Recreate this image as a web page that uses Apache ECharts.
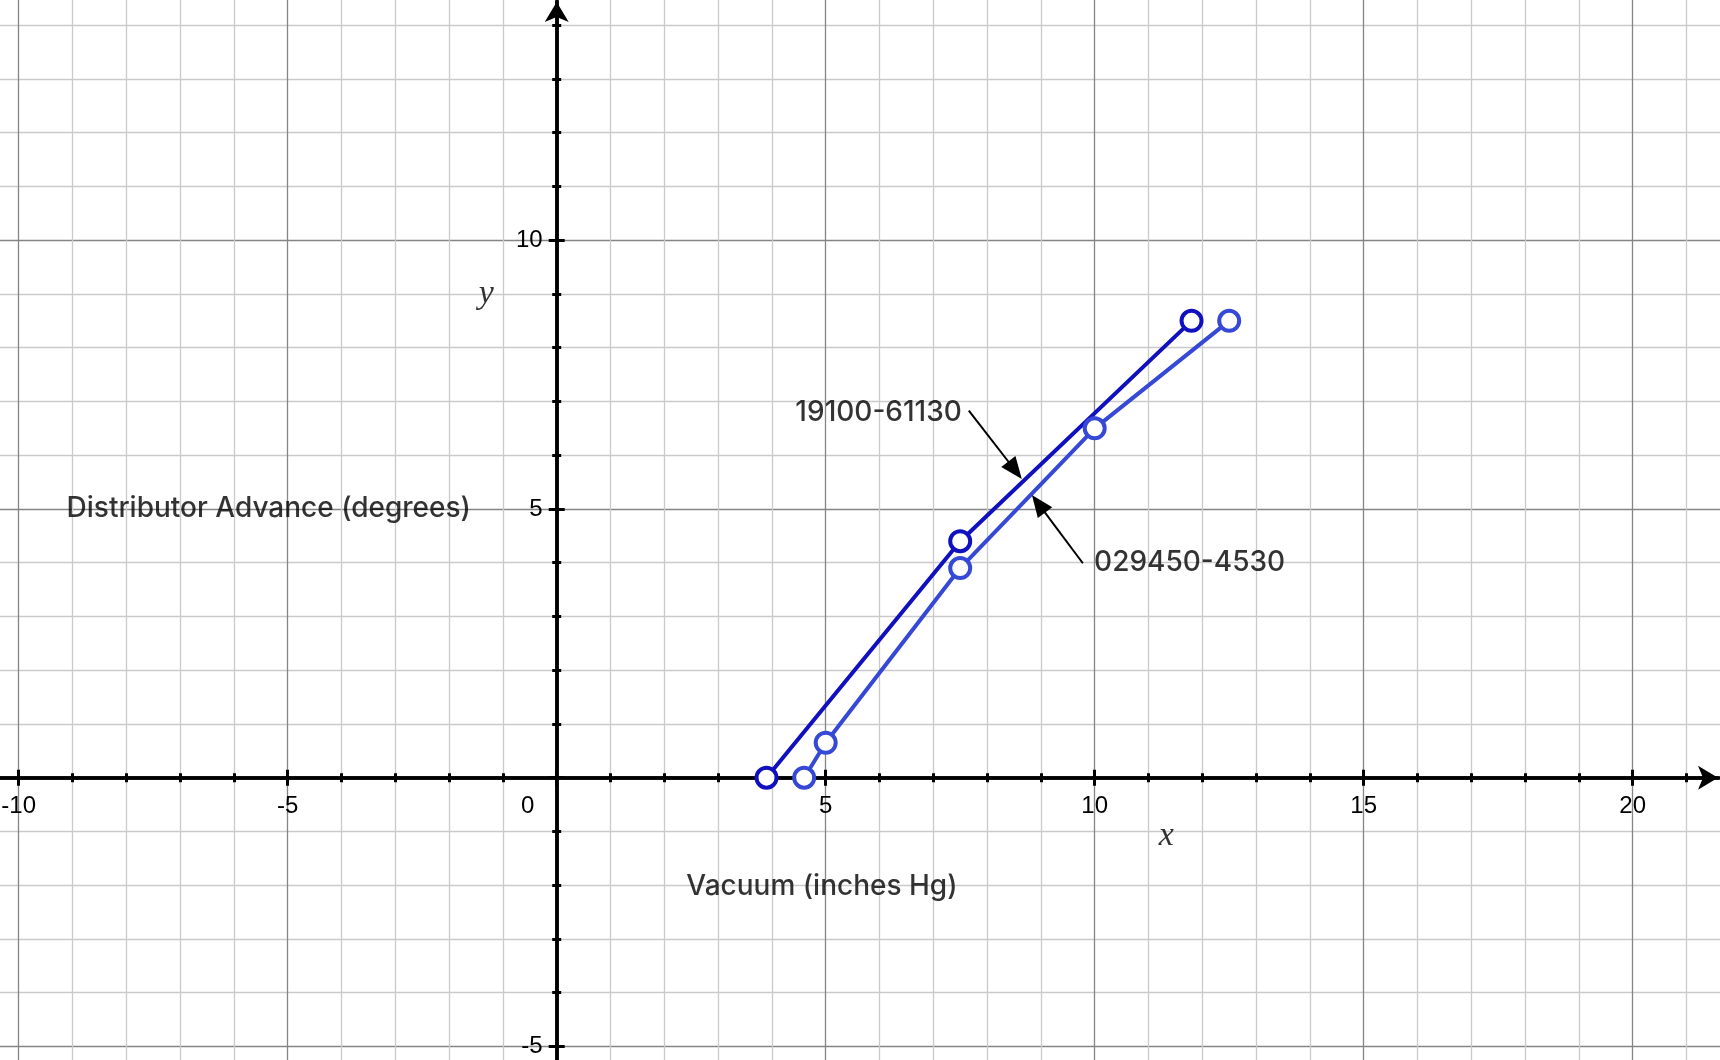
<!DOCTYPE html>
<html>
<head>
<meta charset="utf-8">
<script src="https://cdn.jsdelivr.net/npm/echarts@6/dist/echarts.min.js"></script>
<style>
html,body{margin:0;padding:0;background:#fff;}
#chart{width:1720px;height:1060px;}
</style>
</head>
<body>
<div id="chart"></div>
<script>
// ---- data ----
const seriesNames = ['19100-61130', '029450-4530'];
const vacuumA = [3.9, 7.5, 11.8];
const advanceA = [0, 4.4, 8.5];
const vacuumB = [4.6, 5, 7.5, 10, 12.5];
const advanceB = [0, 0.65, 3.9, 6.5, 8.5];
const xAxisTitle = 'Vacuum (inches Hg)';
const yAxisTitle = 'Distributor Advance (degrees)';

// ---- layout ----
const W = 1720, H = 1060;
const OX = 556.7, OY = 777.7;      // pixel of origin
const SX = 53.8, SY = 53.75;       // pixels per unit
const XMIN = -15, XMAX = 25, YMIN = -10, YMAX = 15;
const gridMain = {
  left: OX + XMIN * SX,
  right: W - (OX + XMAX * SX),
  top: OY - YMAX * SY,
  bottom: H - (OY - YMIN * SY)
};
const ARROW_RIGHT = 2, ARROW_TOP = 2;
const ax2 = {
  xmin: -OX / SX, xmax: (W - ARROW_RIGHT - OX) / SX,
  ymin: -(H - OY) / SY, ymax: (OY - ARROW_TOP) / SY
};

const zip = (a, b) => a.map((v, i) => [v, b[i]]);
const FONT = 'Liberation Sans';
const TXT = 'Inter';
const MAJOR = '#858585', MINOR = '#cacaca';

const tickStyle = { color: '#000', width: 3 };
const axisLineMain = (inside) => ({
  show: !inside, onZero: true, onZeroAxisIndex: 0,
  lineStyle: { color: '#000', width: 3.5 }
});
const mainX = (inside) => ({
  type: 'value', gridIndex: 0, min: XMIN, max: XMAX, interval: 5, position: 'bottom',
  axisLine: axisLineMain(inside),
  axisTick: { show: true, inside: inside, length: 8, lineStyle: tickStyle },
  minorTick: { show: true, splitNumber: 5, length: 4.5, lineStyle: tickStyle },
  splitLine: { show: !inside, lineStyle: { color: MAJOR, width: 1.3 } },
  minorSplitLine: { show: !inside, lineStyle: { color: MINOR, width: 1.3 } },
  axisLabel: { show: false }
});
const mainY = (inside) => ({
  type: 'value', gridIndex: 0, min: YMIN, max: YMAX, interval: 5, position: 'left',
  axisLine: axisLineMain(inside),
  axisTick: { show: true, inside: inside, length: 8, lineStyle: tickStyle },
  minorTick: { show: true, splitNumber: 5, length: 4.5, lineStyle: tickStyle },
  splitLine: { show: !inside, lineStyle: { color: MAJOR, width: 1.3 } },
  minorSplitLine: { show: !inside, lineStyle: { color: MINOR, width: 1.3 } },
  axisLabel: { show: false }
});
const hiddenAxis = (gi) => ({
  type: 'value', gridIndex: gi, min: 0, max: 1, show: false,
  axisLine: { show: false, onZero: false }, axisTick: { show: false },
  axisLabel: { show: false }, splitLine: { show: false }
});
const arrowAxisStyle = () => ({
  show: true, onZero: true, symbol: ['none', 'arrow'], symbolSize: [18, 20],
  lineStyle: { color: '#000', width: 3.5 }
});

const noteFont = { fontSize: 28, fontFamily: TXT, fontWeight: 500, color: '#000' };
const notes = [
  { value: [7.54, 6.80], label: Object.assign({ show: true, position: 'left', distance: 0, formatter: seriesNames[0] }, noteFont) },
  { value: [9.98, 4.0], label: Object.assign({ show: true, position: 'right', distance: 0, formatter: seriesNames[1] }, noteFont) },
  { value: [-9.12, 5.0], label: Object.assign({ show: true, position: 'right', distance: 0, formatter: yAxisTitle }, noteFont) },
  { value: [4.93, -2.03], label: Object.assign({ show: true, position: 'inside', formatter: xAxisTitle }, noteFont) },
  { value: [-1.31, 9.0], label: { show: true, position: 'inside', formatter: 'y', fontSize: 34, fontStyle: 'italic', fontFamily: 'Liberation Serif', color: '#000' } },
  { value: [11.33, -1.08], label: { show: true, position: 'inside', formatter: 'x', fontSize: 34, fontStyle: 'italic', fontFamily: 'Liberation Serif', color: '#000' } }
];

const chart = echarts.init(document.getElementById('chart'), null, { renderer: 'canvas' });
chart.setOption({
  animation: false,
  backgroundColor: '#fff',
  grid: [
    { left: gridMain.left, right: gridMain.right, top: gridMain.top, bottom: gridMain.bottom, containLabel: false, outerBoundsMode: 'none' },
    { left: 0, right: ARROW_RIGHT, top: ARROW_TOP, bottom: 0, containLabel: false, outerBoundsMode: 'none' },
    // label carrier for x tick labels: bottom edge on the x axis line
    { left: gridMain.left, right: gridMain.right, top: gridMain.top, bottom: H - OY, containLabel: false, outerBoundsMode: 'none' },
    // label carrier for y tick labels: left edge on the y axis line
    { left: OX, right: gridMain.right, top: gridMain.top, bottom: gridMain.bottom, containLabel: false, outerBoundsMode: 'none' }
  ],
  xAxis: [
    mainX(false),
    mainX(true),
    { type: 'value', gridIndex: 1, min: ax2.xmin, max: ax2.xmax, axisLine: arrowAxisStyle(),
      axisTick: { show: false }, axisLabel: { show: false }, splitLine: { show: false } },
    { type: 'value', gridIndex: 2, min: XMIN, max: XMAX, interval: 5, position: 'bottom',
      axisLine: { show: false, onZero: false }, axisTick: { show: false }, splitLine: { show: false },
      axisLabel: {
        show: true, fontSize: 24, fontFamily: FONT, color: '#000', margin: 17,
        formatter: v => v === 0 ? '{z|0}' : String(v),
        rich: { z: { fontSize: 24, fontFamily: FONT, color: '#000', padding: [0, 58, 0, 0] } }
      } },
    hiddenAxis(3)
  ],
  yAxis: [
    mainY(false),
    mainY(true),
    { type: 'value', gridIndex: 1, min: ax2.ymin, max: ax2.ymax, axisLine: arrowAxisStyle(),
      axisTick: { show: false }, axisLabel: { show: false }, splitLine: { show: false } },
    hiddenAxis(2),
    { type: 'value', gridIndex: 3, min: YMIN, max: YMAX, interval: 5, position: 'left',
      axisLine: { show: false, onZero: false }, axisTick: { show: false }, splitLine: { show: false },
      axisLabel: {
        show: true, fontSize: 24, fontFamily: FONT, color: '#000', margin: 14,
        formatter: v => v === 0 ? '' : String(v)
      } }
  ],
  series: [
    {
      name: seriesNames[0], type: 'line', xAxisIndex: 0, yAxisIndex: 0,
      data: zip(vacuumA, advanceA),
      symbol: 'circle', symbolSize: 20, showAllSymbol: true,
      lineStyle: { color: '#1010bf', width: 4 },
      itemStyle: { color: '#fff', borderColor: '#1010bf', borderWidth: 4 },
      z: 3
    },
    {
      name: seriesNames[1], type: 'line', xAxisIndex: 0, yAxisIndex: 0,
      data: zip(vacuumB, advanceB),
      symbol: 'circle', symbolSize: 20, showAllSymbol: true,
      lineStyle: { color: '#3549d6', width: 4 },
      itemStyle: { color: '#fff', borderColor: '#3549d6', borderWidth: 4 },
      z: 4
    },
    {
      name: 'notes', type: 'scatter', xAxisIndex: 0, yAxisIndex: 0, silent: true,
      symbol: 'circle', symbolSize: 1, itemStyle: { color: 'rgba(0,0,0,0)' },
      data: notes, z: 5,
      markLine: {
        silent: true, symbol: ['none', 'triangle'], symbolSize: [18, 22],
        label: { show: false },
        lineStyle: { color: '#000', width: 2, type: 'solid' },
        emphasis: { disabled: true },
        data: [
          [{ coord: [7.66, 6.83] }, { coord: [8.52, 5.72] }],
          [{ coord: [9.78, 3.99] }, { coord: [8.955, 5.096] }]
        ]
      }
    }
  ]
});
</script>
</body>
</html>
